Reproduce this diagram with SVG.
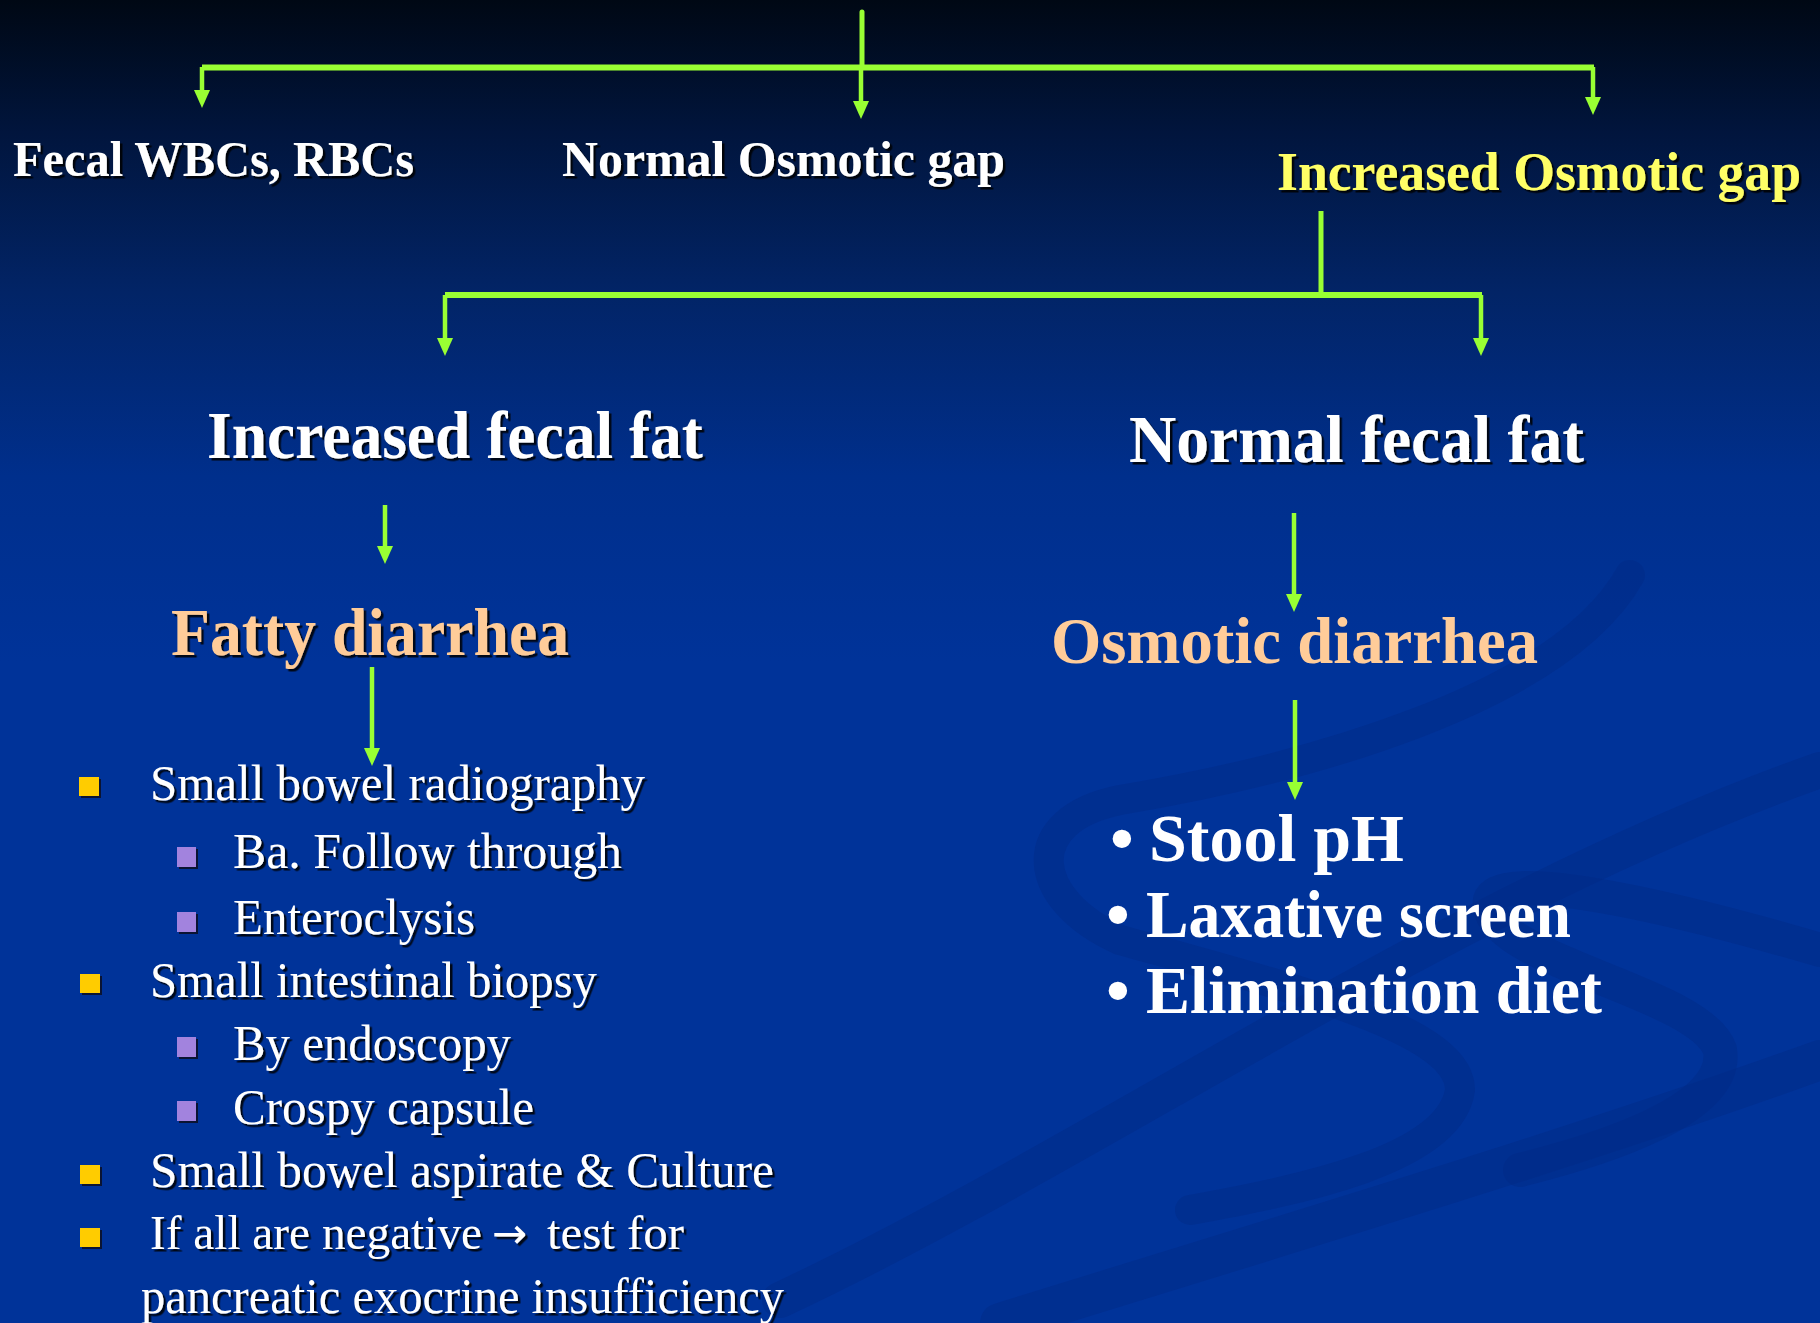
<svg xmlns="http://www.w3.org/2000/svg" width="1820" height="1323" viewBox="0 0 1820 1323">
<defs>
  <linearGradient id="bg" x1="0" y1="0" x2="0" y2="1">
    <stop offset="0" stop-color="#000814"/>
    <stop offset="0.1" stop-color="#01153D"/>
    <stop offset="0.22" stop-color="#022466"/>
    <stop offset="0.36" stop-color="#002F8C"/>
    <stop offset="0.5" stop-color="#003399"/>
    <stop offset="1" stop-color="#003399"/>
  </linearGradient>
  <filter id="sh" x="-5%" y="-20%" width="115%" height="150%">
    <feDropShadow dx="2.5" dy="2.5" stdDeviation="0.6" flood-color="#000000" flood-opacity="0.85"/>
  </filter>
  <marker id="ah" viewBox="0 0 18 16" refX="0" refY="8" markerWidth="18" markerHeight="16" markerUnits="userSpaceOnUse" orient="auto">
    <path d="M0,0 L18,8 L0,16 z" fill="#99FF33"/>
  </marker>
  <style>
    .ln{stroke:#99FF33;stroke-width:5;fill:none}
    .bar{stroke:#99FF33;stroke-width:6;fill:none}
    .ar{stroke:#99FF33;stroke-width:4.5;fill:none;marker-end:url(#ah)}
    .t{font-family:"Liberation Serif","DejaVu Serif",serif}
    .b{font-weight:bold}
    .w{fill:#FFFFFF}
    .y{fill:#FFFF66}
    .p{fill:#FFCC99}
    .s{filter:url(#sh)}
    .l1{font-size:51px}
    .yb{fill:#FFCC00}
    .pb{fill:#A283DE}
    .bs{fill:#0A1433}
    .sw{fill:none;stroke:#002A85;stroke-opacity:0.45;stroke-linecap:round}
    .arr{font-family:"DejaVu Sans",sans-serif;font-size:42px}
  </style>
</defs>
<rect x="0" y="0" width="1820" height="1323" fill="url(#bg)"/>
<g id="swirls">
  <path class="sw" stroke-width="36" d="M780,1300 C1100,1150 1450,900 1820,770"/>
  <path class="sw" stroke-width="30" d="M1630,575 C1560,700 1300,770 1120,800 C1020,820 1030,900 1120,940 C1300,990 1460,1030 1460,1090 C1450,1160 1300,1190 1190,1210"/>
  <path class="sw" stroke-width="34" d="M1820,950 C1650,900 1500,870 1490,900 C1480,960 1700,990 1720,1050 C1730,1110 1600,1150 1520,1170"/>
  <path class="sw" stroke-width="40" d="M1000,1323 C1300,1230 1600,1140 1820,1060"/>
</g>
<g id="connectors">
  <path class="ln" stroke-linecap="round" d="M862,12 V67"/>
  <path class="bar" d="M202,67.5 H1594"/>
  <path class="ar" d="M202,67 V90"/>
  <path class="ar" d="M861,67 V101"/>
  <path class="ar" d="M1593,67 V97"/>
  <path class="ln" d="M1321,211 V295"/>
  <path class="bar" d="M445,295 H1482"/>
  <path class="ar" d="M445,295 V338"/>
  <path class="ar" d="M1481,295 V338"/>
  <path class="ar" d="M385,505 V546"/>
  <path class="ar" d="M372,667 V748"/>
  <path class="ar" d="M1294,513 V594"/>
  <path class="ar" d="M1295,700 V782"/>
</g>
<g id="fecal-wbcs">
  <text class="t b w s" x="13" y="176" font-size="51" textLength="401" lengthAdjust="spacingAndGlyphs">Fecal WBCs, RBCs</text>
</g>
<g id="normal-osmotic-gap">
  <text class="t b w s" x="562" y="176" font-size="51" textLength="443" lengthAdjust="spacingAndGlyphs">Normal Osmotic gap</text>
</g>
<g id="increased-osmotic-gap">
  <text class="t b y s" x="1277" y="190" font-size="54" textLength="524" lengthAdjust="spacingAndGlyphs">Increased Osmotic gap</text>
</g>
<g id="increased-fecal-fat">
  <text class="t b w s" x="207" y="458" font-size="68" textLength="496" lengthAdjust="spacingAndGlyphs">Increased fecal fat</text>
</g>
<g id="normal-fecal-fat">
  <text class="t b w s" x="1129" y="462" font-size="68" textLength="455" lengthAdjust="spacingAndGlyphs">Normal fecal fat</text>
</g>
<g id="fatty-diarrhea">
  <text class="t b p s" x="171" y="655" font-size="68" textLength="398" lengthAdjust="spacingAndGlyphs">Fatty diarrhea</text>
</g>
<g id="osmotic-diarrhea">
  <text class="t b p" x="1051" y="663" font-size="66" textLength="487" lengthAdjust="spacingAndGlyphs">Osmotic diarrhea</text>
</g>
<g id="fatty-workup">
  <rect class="bs" x="81" y="779" width="20" height="19"/><rect class="yb" x="79" y="777" width="20" height="19"/>
  <text class="t w s l1" x="150" y="800" textLength="495" lengthAdjust="spacingAndGlyphs">Small bowel radiography</text>
  <rect class="bs" x="179" y="849" width="19" height="20"/><rect class="pb" x="177" y="847" width="19" height="20"/>
  <text class="t w s l1" x="233" y="868" textLength="389" lengthAdjust="spacingAndGlyphs">Ba. Follow through</text>
  <rect class="bs" x="179" y="914" width="19" height="20"/><rect class="pb" x="177" y="912" width="19" height="20"/>
  <text class="t w s l1" x="233" y="934" textLength="242" lengthAdjust="spacingAndGlyphs">Enteroclysis</text>
  <rect class="bs" x="82" y="976" width="20" height="19"/><rect class="yb" x="80" y="974" width="20" height="19"/>
  <text class="t w s l1" x="150" y="997" textLength="447" lengthAdjust="spacingAndGlyphs">Small intestinal biopsy</text>
  <rect class="bs" x="179" y="1039" width="19" height="20"/><rect class="pb" x="177" y="1037" width="19" height="20"/>
  <text class="t w s l1" x="233" y="1060" textLength="278" lengthAdjust="spacingAndGlyphs">By endoscopy</text>
  <rect class="bs" x="179" y="1103" width="19" height="20"/><rect class="pb" x="177" y="1101" width="19" height="20"/>
  <text class="t w s l1" x="233" y="1124" textLength="301" lengthAdjust="spacingAndGlyphs">Crospy capsule</text>
  <rect class="bs" x="82" y="1167" width="20" height="19"/><rect class="yb" x="80" y="1165" width="20" height="19"/>
  <text class="t w s l1" x="150" y="1187" textLength="624" lengthAdjust="spacingAndGlyphs">Small bowel aspirate &amp; Culture</text>
  <rect class="bs" x="82" y="1230" width="20" height="19"/><rect class="yb" x="80" y="1228" width="20" height="19"/>
  <text class="t w s" x="150" y="1249" font-size="49" textLength="332" lengthAdjust="spacingAndGlyphs">If all are negative</text>
  <text class="w s arr" x="492" y="1248">→</text>
  <text class="t w s" x="547" y="1249" font-size="49" textLength="137" lengthAdjust="spacingAndGlyphs">test for</text>
  <text class="t w s l1" x="141" y="1313" textLength="643" lengthAdjust="spacingAndGlyphs">pancreatic exocrine insufficiency</text>
</g>
<g id="osmotic-workup">
  <text class="t b w" font-size="68"><tspan x="1110" y="861">•</tspan><tspan x="1149" y="861" textLength="255" lengthAdjust="spacingAndGlyphs">Stool pH</tspan></text>
  <text class="t b w" font-size="68"><tspan x="1106" y="937">•</tspan><tspan x="1146" y="937" textLength="425" lengthAdjust="spacingAndGlyphs">Laxative screen</tspan></text>
  <text class="t b w" font-size="68"><tspan x="1106" y="1013">•</tspan><tspan x="1146" y="1013" textLength="456" lengthAdjust="spacingAndGlyphs">Elimination diet</tspan></text>
</g>
</svg>
